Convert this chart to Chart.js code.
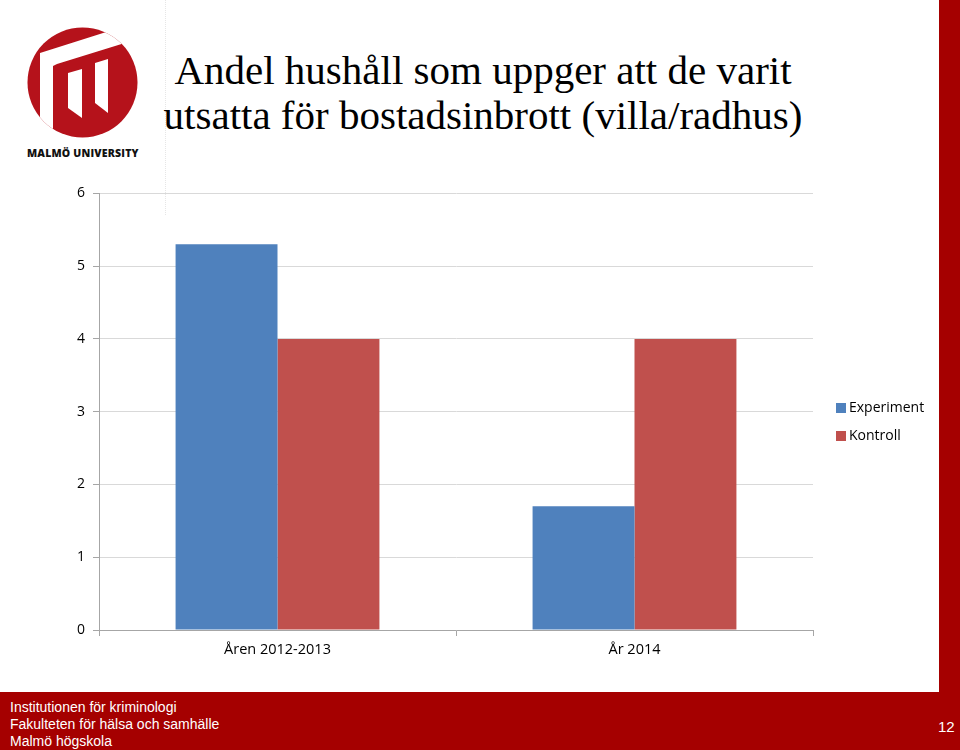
<!DOCTYPE html>
<html>
<head>
<meta charset="utf-8">
<script src="https://cdn.jsdelivr.net/npm/chart.js@4.4.1/dist/chart.umd.min.js"></script>
<style>
  html, body { margin: 0; padding: 0; background: #fff; }
  body { width: 960px; height: 750px; position: relative; overflow: hidden; }
  #stripe { position: absolute; left: 939px; top: 0; width: 21px; height: 692px; background: #A50000; }
  #footer { position: absolute; left: 0; top: 692px; width: 960px; height: 58px; background: #A50000; color: #fff;
            font-family: "Liberation Sans Narrow", "Liberation Sans", Arial, sans-serif; font-size: 14px; }
  #footer .lines { position: absolute; left: 10px; top: 7px; line-height: 17px; }
  #footer .num { position: absolute; left: 938px; top: 26px; font-size: 15px; }
  #title { position: absolute; left: 100px; top: 48px; width: 766px; text-align: center;
           font-family: "Liberation Serif", "DejaVu Serif", serif; font-size: 41px; line-height: 45px; color: #000; }
  #logo { position: absolute; left: 0; top: 0; }
  #logotext { position: absolute; left: 27px; top: 146px; font-family: "Open Sans", "DejaVu Sans", sans-serif;
              font-weight: 800; font-size: 10.5px; letter-spacing: 0.2px; color: #111; }
  #dots { position: absolute; left: 165px; top: 0; height: 215px; border-left: 1px dotted #e6e6e6; }
  #wrap { position: absolute; left: 0; top: 177px; width: 939px; height: 493px; }
</style>
</head>
<body>
<div id="dots"></div>
<svg id="logo" width="170" height="145">
  <defs><clipPath id="cc"><circle cx="82.5" cy="82.5" r="55"/></clipPath></defs>
  <circle cx="82.5" cy="82.5" r="55" fill="#B5121B"/>
  <g clip-path="url(#cc)" fill="#fff">
    <polygon points="40,53 122,27 128,42 57,64 53,66 53,140 40,140"/>
    <polygon points="68,73 82,69 82,118 68,108"/>
    <polygon points="95,63 108,59 108,113 95,103"/>
  </g>
</svg>
<div id="logotext">MALMÖ UNIVERSITY</div>
<div id="title">Andel hushåll som uppger att de varit<br>utsatta för bostadsinbrott (villa/radhus)</div>
<div id="wrap"><canvas id="c"></canvas></div>
<div id="stripe"></div>
<div id="footer">
  <div class="lines">Institutionen för kriminologi<br>Fakulteten för hälsa och samhälle<br>Malmö högskola</div>
  <div class="num">12</div>
</div>
<script>
const categories = ["Åren 2012-2013", "År 2014"];
const seriesNames = ["Experiment", "Kontroll"];
const experimentValues = [5.3, 1.7];
const kontrollValues = [4.0, 4.0];
const yTicks = [0, 1, 2, 3, 4, 5, 6];
const seriesColors = ["#4F81BD", "#C0504D"];

const legendPlugin = {
  id: 'customLegend',
  afterDraw(chart) {
    const ctx = chart.ctx;
    ctx.save();
    ctx.font = '14px "Open Sans", "DejaVu Sans", sans-serif';
    ctx.textBaseline = 'middle';
    chart.data.datasets.forEach((ds, i) => {
      const y = 231 + i * 28;
      ctx.fillStyle = ds.backgroundColor;
      ctx.fillRect(836, y - 5, 10, 10);
      ctx.fillStyle = '#000';
      ctx.fillText(ds.label, 849, y);
    });
    ctx.restore();
  }
};

new Chart(document.getElementById('c'), {
  type: 'bar',
  data: {
    labels: categories,
    datasets: [
      { label: seriesNames[0], data: experimentValues, backgroundColor: seriesColors[0] },
      { label: seriesNames[1], data: kontrollValues, backgroundColor: seriesColors[1] }
    ]
  },
  options: {
    responsive: true,
    maintainAspectRatio: false,
    animation: false,
    layout: { padding: { top: 0, right: 126, left: 0, bottom: 0 } },
    plugins: { legend: { display: false }, tooltip: { enabled: false } },
    datasets: { bar: { barPercentage: 1.0, categoryPercentage: 0.571 } },
    scales: {
      x: {
        afterFit(s) { s.height = 40; },
        grid: { offset: true, drawOnChartArea: false, tickLength: 6, color: '#A6A6A6' },
        border: { color: '#A6A6A6' },
        ticks: { color: '#000', padding: 5, font: { family: '"Open Sans", "DejaVu Sans", sans-serif', size: 14.5 } }
      },
      y: {
        min: 0, max: 6,
        afterFit(s) { s.width = 99; },
        afterBuildTicks(s) { s.ticks = yTicks.map(v => ({ value: v })); },
        grid: { color: '#D9D9D9', tickColor: '#A6A6A6', tickLength: 6 },
        border: { color: '#A6A6A6' },
        ticks: { color: '#000', padding: 8, font: { family: '"Open Sans", "DejaVu Sans", sans-serif', size: 14 } }
      }
    }
  },
  plugins: [legendPlugin]
});
</script>
</body>
</html>
